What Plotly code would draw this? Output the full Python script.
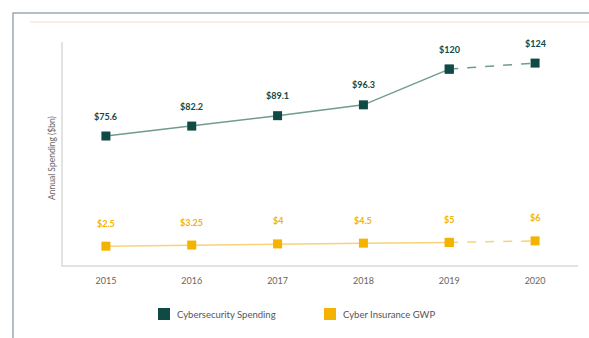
import plotly.graph_objects as go

years = ["2015", "2016", "2017", "2018", "2019", "2020"]
cyber = [75.6, 82.2, 89.1, 96.3, 120, 124]
insurance = [2.5, 3.25, 4, 4.5, 5, 6]
cyber_labels = ["$75.6", "$82.2", "$89.1", "$96.3", "$120", "$124"]
ins_labels = ["$2.5", "$3.25", "$4", "$4.5", "$5", "$6"]
series_names = ["Cybersecurity Spending", "Cyber Insurance GWP"]

C_DARK = "#0f4a44"
C_LINE = "#6f9c8f"
C_GOLD = "#f3b300"
C_GOLD_LINE = "#f6d378"
FONT = "Lato"

# plot-area geometry (px) for paper-coordinate helpers
L, T, W, H = 63, 42, 515, 223
def px(x):
    return (x - L) / W
def py(y):
    return (T + H - y) / H

fig = go.Figure()

def add_series(vals, mcolor, lcolor):
    fig.add_trace(go.Scatter(x=years[:5], y=vals[:5], mode="lines+markers",
                             line=dict(color=lcolor, width=1.5),
                             marker=dict(symbol="square", size=9, color=mcolor),
                             showlegend=False, hoverinfo="skip"))
    fig.add_trace(go.Scatter(x=years[4:], y=vals[4:], mode="lines+markers",
                             line=dict(color=lcolor, width=1.5, dash="dash"),
                             marker=dict(symbol="square", size=9, color=mcolor),
                             showlegend=False, hoverinfo="skip"))

add_series(cyber, C_DARK, C_LINE)
add_series(insurance, C_GOLD, C_GOLD_LINE)

for i, (v, t) in enumerate(zip(cyber, cyber_labels)):
    fig.add_annotation(x=i, y=v, text=t, showarrow=False, yshift=20,
                       font=dict(family=FONT, size=9, color=C_DARK, weight="bold"))
for i, (v, t) in enumerate(zip(insurance, ins_labels)):
    fig.add_annotation(x=i, y=v, text=t, showarrow=False, yshift=23,
                       font=dict(family=FONT, size=9, color=C_GOLD, weight="bold"))

fig.add_annotation(xref="paper", yref="paper", x=px(52), y=py(158), xanchor="center",
                   yanchor="middle", text="Annual Spending ($bn)", textangle=-90,
                   showarrow=False, font=dict(family=FONT, size=8.5, color="#666666"))

# legend drawn as squares + labels
for (sx, tx), name, col in zip([(158, 175), (324, 341)], series_names, [C_DARK, C_GOLD]):
    fig.add_shape(type="rect", xref="paper", yref="paper", x0=px(sx), x1=px(sx + 12),
                  y0=py(320), y1=py(308), fillcolor=col, line=dict(width=0))
    fig.add_annotation(xref="paper", yref="paper", x=px(tx), y=py(314), xanchor="left",
                       yanchor="middle", text=name, showarrow=False,
                       font=dict(family=FONT, size=9.5, color="#555555"))

# outer frame and faint top rule
fig.add_shape(type="rect", xref="paper", yref="paper", x0=px(13), x1=px(600), y0=py(350), y1=py(13),
              line=dict(color="#9aabb7", width=1.5), layer="below")
fig.add_shape(type="line", xref="paper", yref="paper", x0=px(30), x1=px(600), y0=py(22), y1=py(22),
              line=dict(color="#fbe6dc", width=1.5), layer="below")

fig.update_layout(
    width=589, height=338,
    margin=dict(l=L, r=589 - L - W, t=T, b=338 - T - H),
    paper_bgcolor="white", plot_bgcolor="white",
    font=dict(family=FONT, color="#666666"),
    showlegend=False,
    xaxis=dict(type="category", range=[-0.5, 5.5], showgrid=False, zeroline=False,
               showline=True, linecolor="#e2e2e2", linewidth=1.5, ticks="",
               ticklabelstandoff=6,
               tickfont=dict(size=9, color="#666666"), fixedrange=True),
    yaxis=dict(range=[-10, 138], showgrid=False, zeroline=False, showticklabels=False,
               showline=True, linecolor="#e2e2e2", linewidth=1.5, ticks="", fixedrange=True),
)

fig.write_html("out.html")
